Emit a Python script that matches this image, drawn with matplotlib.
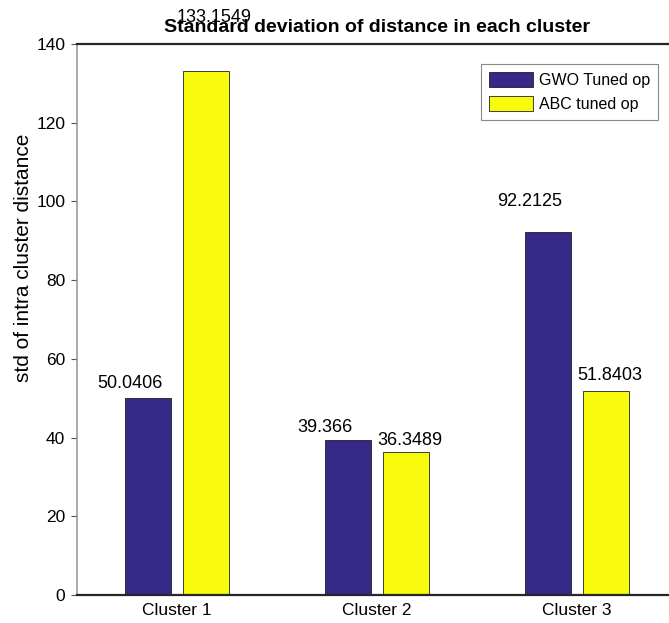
import numpy as np
import matplotlib
matplotlib.use('Agg')
import matplotlib.pyplot as plt

plt.rcParams['font.family'] = ['Liberation Sans', 'DejaVu Sans']

clusters = ['Cluster 1', 'Cluster 2', 'Cluster 3']
gwo_std = [50.0406, 39.366, 92.2125]
abc_std = [133.1549, 36.3489, 51.8403]
series_names = ['GWO Tuned op', 'ABC tuned op']

gwo_color = (53/255, 42/255, 135/255)
abc_color = (249/255, 251/255, 14/255)

fig = plt.figure(figsize=(6.69, 6.23), dpi=100)
# axes runs a little past the right edge, like the cropped original
ax = fig.add_axes([77/669, 28/623, 600/669, 551/623])

x = np.arange(1, len(clusters) + 1)
w = 0.23
ax.bar(x - 0.145, gwo_std, w, color=gwo_color, edgecolor='#202020', linewidth=0.6, label=series_names[0])
ax.bar(x + 0.145, abc_std, w, color=abc_color, edgecolor='#202020', linewidth=0.6, label=series_names[1])

# value labels, left aligned like the matlab text() calls
for xi, g, a in zip(x, gwo_std, abc_std):
    ax.text(xi - 0.40, g + 1 + 6.5e-4 * g ** 2, str(g), fontsize=13, ha='left', va='baseline')
    ax.text(xi + 0.0, a + 1 + 6.5e-4 * a ** 2, str(a), fontsize=13, ha='left', va='baseline', zorder=5)

ax.set_xlim(0.5, 3.5)
ax.set_ylim(0, 140)
ax.set_yticks(range(0, 141, 20))
ax.set_xticks(x)
ax.set_xticklabels(clusters, fontsize=12.5)
ax.tick_params(axis='y', labelsize=12.5, direction='out', length=4.5, color='#555555', pad=4)
ax.tick_params(axis='x', length=0, pad=6)
ax.set_ylabel('std of intra cluster distance', fontsize=15)
ax.yaxis.set_label_coords(-0.074, 0.612)
ax.set_title('Standard deviation of distance in each cluster', fontsize=14, fontweight='bold', pad=9)

ax.spines['left'].set_color('#999999')
ax.spines['left'].set_linewidth(1.2)
ax.spines['top'].set_color('#262626')
ax.spines['top'].set_linewidth(1.6)
ax.spines['bottom'].set_color('#262626')
ax.spines['bottom'].set_linewidth(1.6)
ax.spines['right'].set_visible(False)

leg = ax.legend(loc='upper right', bbox_to_anchor=(658/669, 1 - 64/623), bbox_transform=fig.transFigure,
                borderaxespad=0, fontsize=11.5, fancybox=False, framealpha=1, edgecolor='#888888',
                handlelength=2.7, handleheight=1.1, handletextpad=0.4, labelspacing=0.5, borderpad=0.5)
leg.get_frame().set_linewidth(0.8)

fig.savefig('out.png', dpi=100)
